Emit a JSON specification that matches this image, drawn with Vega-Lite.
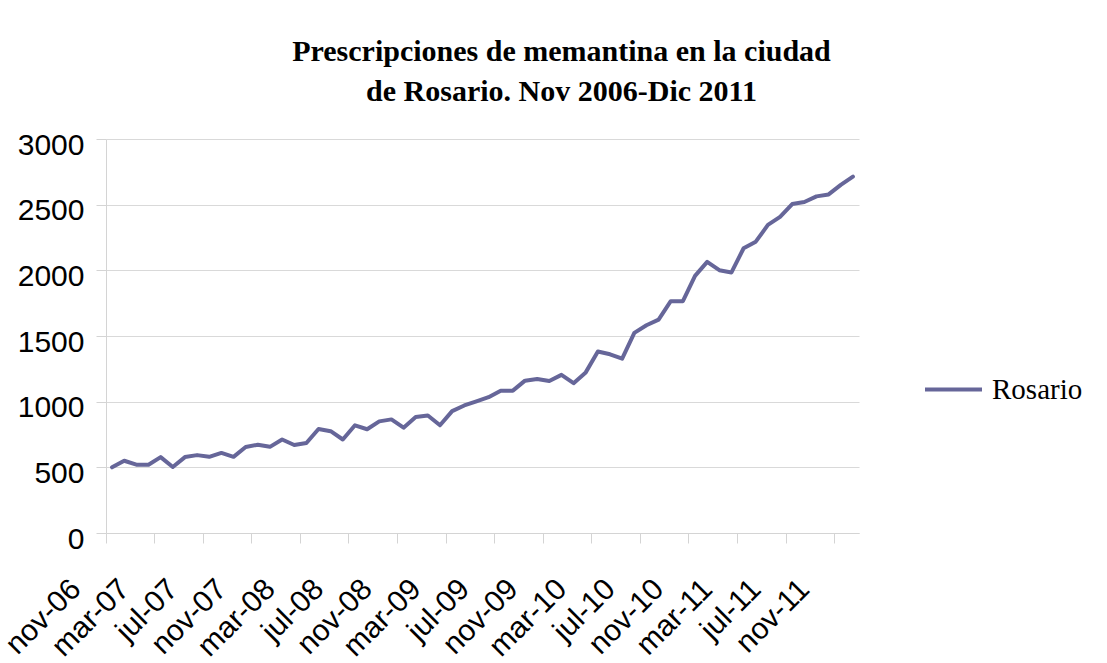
{
  "$schema": "https://vega.github.io/schema/vega-lite/v6.json",
  "autosize": {"type": "none"},
  "width": 753,
  "height": 394,
  "padding": {"left": 106, "top": 139, "right": 248, "bottom": 130},
  "background": "white",
  "title": {
    "text": ["Prescripciones de memantina en la ciudad", "de Rosario. Nov 2006-Dic 2011"],
    "font": "Liberation Serif",
    "fontSize": 30,
    "fontWeight": "bold",
    "color": "black",
    "lineHeight": 40,
    "anchor": "middle",
    "dx": 79,
    "offset": 23
  },
  "data": {
    "values": [
      {"mes": "nov-06", "valor": 500, "serie": "Rosario"},
      {"mes": "dic-06", "valor": 550, "serie": "Rosario"},
      {"mes": "ene-07", "valor": 520, "serie": "Rosario"},
      {"mes": "feb-07", "valor": 520, "serie": "Rosario"},
      {"mes": "mar-07", "valor": 578, "serie": "Rosario"},
      {"mes": "abr-07", "valor": 503, "serie": "Rosario"},
      {"mes": "may-07", "valor": 578, "serie": "Rosario"},
      {"mes": "jun-07", "valor": 593, "serie": "Rosario"},
      {"mes": "jul-07", "valor": 580, "serie": "Rosario"},
      {"mes": "ago-07", "valor": 610, "serie": "Rosario"},
      {"mes": "sep-07", "valor": 580, "serie": "Rosario"},
      {"mes": "oct-07", "valor": 655, "serie": "Rosario"},
      {"mes": "nov-07", "valor": 672, "serie": "Rosario"},
      {"mes": "dic-07", "valor": 656, "serie": "Rosario"},
      {"mes": "ene-08", "valor": 712, "serie": "Rosario"},
      {"mes": "feb-08", "valor": 670, "serie": "Rosario"},
      {"mes": "mar-08", "valor": 685, "serie": "Rosario"},
      {"mes": "abr-08", "valor": 792, "serie": "Rosario"},
      {"mes": "may-08", "valor": 775, "serie": "Rosario"},
      {"mes": "jun-08", "valor": 712, "serie": "Rosario"},
      {"mes": "jul-08", "valor": 820, "serie": "Rosario"},
      {"mes": "ago-08", "valor": 790, "serie": "Rosario"},
      {"mes": "sep-08", "valor": 850, "serie": "Rosario"},
      {"mes": "oct-08", "valor": 865, "serie": "Rosario"},
      {"mes": "nov-08", "valor": 802, "serie": "Rosario"},
      {"mes": "dic-08", "valor": 883, "serie": "Rosario"},
      {"mes": "ene-09", "valor": 895, "serie": "Rosario"},
      {"mes": "feb-09", "valor": 820, "serie": "Rosario"},
      {"mes": "mar-09", "valor": 928, "serie": "Rosario"},
      {"mes": "abr-09", "valor": 971, "serie": "Rosario"},
      {"mes": "may-09", "valor": 1003, "serie": "Rosario"},
      {"mes": "jun-09", "valor": 1034, "serie": "Rosario"},
      {"mes": "jul-09", "valor": 1084, "serie": "Rosario"},
      {"mes": "ago-09", "valor": 1084, "serie": "Rosario"},
      {"mes": "sep-09", "valor": 1160, "serie": "Rosario"},
      {"mes": "oct-09", "valor": 1173, "serie": "Rosario"},
      {"mes": "nov-09", "valor": 1157, "serie": "Rosario"},
      {"mes": "dic-09", "valor": 1204, "serie": "Rosario"},
      {"mes": "ene-10", "valor": 1141, "serie": "Rosario"},
      {"mes": "feb-10", "valor": 1223, "serie": "Rosario"},
      {"mes": "mar-10", "valor": 1382, "serie": "Rosario"},
      {"mes": "abr-10", "valor": 1361, "serie": "Rosario"},
      {"mes": "may-10", "valor": 1327, "serie": "Rosario"},
      {"mes": "jun-10", "valor": 1524, "serie": "Rosario"},
      {"mes": "jul-10", "valor": 1582, "serie": "Rosario"},
      {"mes": "ago-10", "valor": 1625, "serie": "Rosario"},
      {"mes": "sep-10", "valor": 1765, "serie": "Rosario"},
      {"mes": "oct-10", "valor": 1765, "serie": "Rosario"},
      {"mes": "nov-10", "valor": 1958, "serie": "Rosario"},
      {"mes": "dic-10", "valor": 2064, "serie": "Rosario"},
      {"mes": "ene-11", "valor": 2001, "serie": "Rosario"},
      {"mes": "feb-11", "valor": 1984, "serie": "Rosario"},
      {"mes": "mar-11", "valor": 2168, "serie": "Rosario"},
      {"mes": "abr-11", "valor": 2218, "serie": "Rosario"},
      {"mes": "may-11", "valor": 2346, "serie": "Rosario"},
      {"mes": "jun-11", "valor": 2407, "serie": "Rosario"},
      {"mes": "jul-11", "valor": 2505, "serie": "Rosario"},
      {"mes": "ago-11", "valor": 2520, "serie": "Rosario"},
      {"mes": "sep-11", "valor": 2563, "serie": "Rosario"},
      {"mes": "oct-11", "valor": 2578, "serie": "Rosario"},
      {"mes": "nov-11", "valor": 2651, "serie": "Rosario"},
      {"mes": "dic-11", "valor": 2714, "serie": "Rosario"}
    ]
  },
  "mark": {"type": "line", "strokeWidth": 4, "strokeJoin": "round", "strokeCap": "round"},
  "encoding": {
    "x": {
      "field": "mes",
      "type": "ordinal",
      "sort": null,
      "bandPosition": 0.5,
      "scale": {"type": "band", "paddingInner": 0, "paddingOuter": 0},
      "axis": {
        "title": null,
        "values": ["nov-06","mar-07","jul-07","nov-07","mar-08","jul-08","nov-08","mar-09","jul-09","nov-09","mar-10","jul-10","nov-10","mar-11","jul-11","nov-11"],
        "bandPosition": 0,
        "grid": false,
        "domainColor": "#d4d4d4",
        "tickColor": "#d4d4d4",
        "tickSize": 10,
        "labelFont": "Liberation Sans",
        "labelFontSize": 30,
        "labelColor": "black",
        "labelAngle": -45,
        "labelAlign": "right",
        "labelBaseline": "middle",
        "labelOffset": -36,
        "labelPadding": 41,
        "labelOverlap": false,
        "labelBound": false
      }
    },
    "y": {
      "field": "valor",
      "type": "quantitative",
      "scale": {"domain": [0, 3000], "nice": false},
      "axis": {
        "title": null,
        "format": "d",
        "values": [0, 500, 1000, 1500, 2000, 2500, 3000],
        "grid": true,
        "gridColor": "#d9d9d9",
        "domainColor": "#d4d4d4",
        "tickColor": "#d4d4d4",
        "tickSize": 10,
        "labelFont": "Liberation Sans",
        "labelFontSize": 30,
        "labelColor": "black",
        "labelPadding": 12,
        "labelOffset": 6
      }
    },
    "color": {
      "field": "serie",
      "type": "nominal",
      "scale": {"range": ["#666699"]},
      "legend": {
        "title": null,
        "orient": "none",
        "legendX": 817,
        "legendY": 220,
        "symbolType": "stroke",
        "symbolSize": 3249,
        "symbolStrokeWidth": 4,
        "labelFont": "Liberation Serif",
        "labelFontSize": 29,
        "labelColor": "black",
        "labelOffset": 8
      }
    }
  },
  "config": {"view": {"stroke": null}}
}
